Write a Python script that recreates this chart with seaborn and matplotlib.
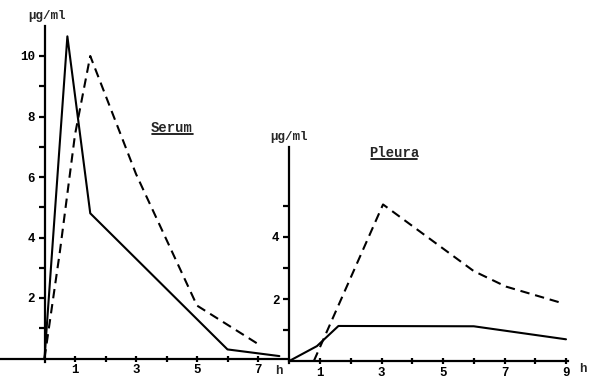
import matplotlib
matplotlib.use("Agg")
import matplotlib.pyplot as plt
import seaborn as sns
from matplotlib.lines import Line2D

# ---- data ----
serum_t_solid = [0, 0.75, 1.5, 6.0, 7.7]
serum_c_solid = [0, 10.65, 4.8, 0.3, 0.08]
serum_t_dash = [0, 0.5, 1.0, 1.5, 3.0, 5.0, 7.0]
serum_c_dash = [0, 3.5, 7.4, 10.0, 6.1, 1.75, 0.48]

pleura_t_solid = [0, 0.9, 1.6, 6.0, 9.0]
pleura_c_solid = [0, 0.48, 1.13, 1.12, 0.7]
pleura_t_dash = [0.8, 3.05, 6.0, 7.05, 8.9]
pleura_c_dash = [0, 5.05, 2.9, 2.4, 1.86]

serum_xticks = [1, 2, 3, 4, 5, 6, 7]
serum_xlabels = ["1", "", "3", "", "5", "", "7"]
serum_yticks = [1, 2, 3, 4, 5, 6, 7, 8, 9, 10]
serum_ylabels = ["", "2", "", "4", "", "6", "", "8", "", "10"]
pleura_xticks = [1, 2, 3, 4, 5, 6, 7, 8, 9]
pleura_xlabels = ["1", "", "3", "", "5", "", "7", "", "9"]
pleura_yticks = [1, 2, 3, 4, 5]
pleura_ylabels = ["", "2", "", "4", ""]

unit = "\u00b5g/ml"
time_unit = "h"
title_serum = "Serum"
title_pleura = "Pleura"

# ---- figure ----
sns.set_style("white")
plt.rcParams["font.family"] = ["Liberation Mono", "DejaVu Sans Mono"]
plt.rcParams["font.weight"] = "bold"

W, H = 589, 380
fig = plt.figure(figsize=(W / 100, H / 100), dpi=100)


def fx(px):
    return px / W


def fy(py):
    return 1 - py / H


def make_axes(x0, x1, ytop, ybot, ox, sx, oy, sy):
    ax = fig.add_axes([fx(x0), fy(ybot), fx(x1) - fx(x0), fy(ytop) - fy(ybot)])
    ax.set_xlim((x0 - ox) / sx, (x1 - ox) / sx)
    ax.set_ylim((oy - ybot) / sy, (oy - ytop) / sy)
    ax.patch.set_alpha(0)
    return ax


ax1 = make_axes(1, 289, 20, 366, 44.5, 30.5, 358.5, 30.25)
ax2 = make_axes(289, 589, 130, 368, 289.25, 30.75, 361, 31.0)

lw = 1.5
dash = (0, (4.5, 2.8))

sns.lineplot(x=serum_t_solid, y=serum_c_solid, ax=ax1, color="black", lw=lw, sort=False)
sns.lineplot(x=serum_t_dash, y=serum_c_dash, ax=ax1, color="black", lw=lw, ls=dash, sort=False)
sns.lineplot(x=pleura_t_solid, y=pleura_c_solid, ax=ax2, color="black", lw=lw, sort=False)
sns.lineplot(x=pleura_t_dash, y=pleura_c_dash, ax=ax2, color="black", lw=lw, ls=dash, sort=False)

for ax, xb, yb in [(ax1, (ax1.get_xlim()[0], 8.0), (-0.12, 11.0)),
                   (ax2, (0, 9.05), (-0.08, 6.9))]:
    for s in ["top", "right"]:
        ax.spines[s].set_visible(False)
    ax.spines["left"].set_position(("data", 0))
    ax.spines["bottom"].set_position(("data", 0))
    ax.spines["left"].set_bounds(*yb)
    ax.spines["bottom"].set_bounds(*xb)
    for s in ["left", "bottom"]:
        ax.spines[s].set_color("black")
        ax.spines[s].set_linewidth(1.6)

ax1.set_xticks(serum_xticks, serum_xlabels)
ax1.set_yticks(serum_yticks, serum_ylabels)
ax2.set_xticks(pleura_xticks, pleura_xlabels)
ax2.set_yticks(pleura_yticks, pleura_ylabels)

for ax in (ax1, ax2):
    ax.tick_params(axis="x", direction="inout", length=5, width=1.6, pad=1.5,
                   labelsize=9, colors="black", bottom=True)
    ax.tick_params(axis="y", direction="out", length=4, width=1.6, pad=3,
                   labelsize=9, colors="black", left=True)
    for lab in ax.get_xticklabels() + ax.get_yticklabels():
        lab.set_fontweight("bold")
    ax.set_xlabel("")
    ax.set_ylabel("")

# axis unit labels
fig.text(fx(47), fy(16), unit, ha="center", va="center", fontsize=9, fontweight="bold")
fig.text(fx(289), fy(137), unit, ha="center", va="center", fontsize=9, fontweight="bold")
fig.text(fx(279), fy(371), time_unit, ha="center", va="center", fontsize=9, fontweight="bold")
fig.text(fx(583), fy(369), time_unit, ha="center", va="center", fontsize=9, fontweight="bold")

# panel titles, underlined
fig.text(fx(172), fy(128), title_serum, ha="center", va="center", fontsize=10, fontweight="bold")
fig.add_artist(Line2D([fx(152), fx(193)], [fy(133.5), fy(133.5)], color="black", lw=1.2))
fig.text(fx(394), fy(153), title_pleura, ha="center", va="center", fontsize=10, fontweight="bold")
fig.add_artist(Line2D([fx(371), fx(417)], [fy(158.5), fy(158.5)], color="black", lw=1.2))

fig.savefig("out.png", dpi=100)
